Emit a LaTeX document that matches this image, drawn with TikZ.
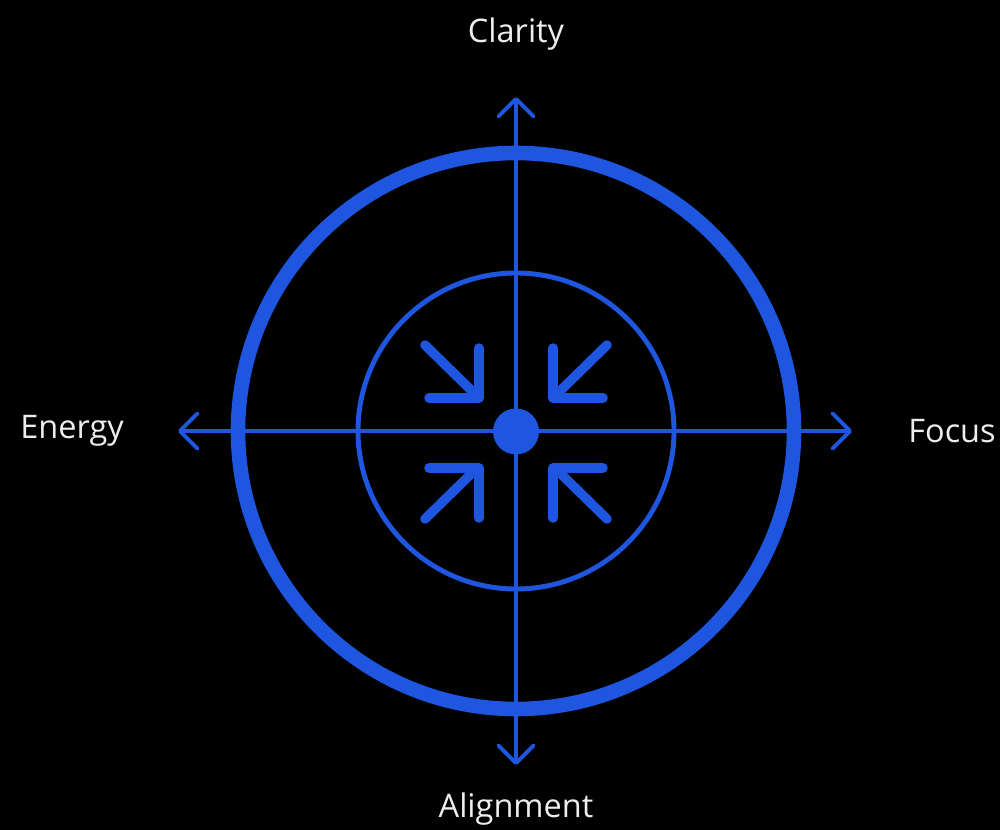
\documentclass[tikz,border=0pt]{standalone}
\usepackage{fontspec}
\setmainfont{Open Sans}
\usetikzlibrary{arrows.meta}
\definecolor{brandblue}{HTML}{1E56DF}
\definecolor{labelgray}{HTML}{EDEDED}
\tikzset{
  axisline/.style={draw=brandblue, line width=2.2pt, {Straight Barb[round,length=10pt,width=20pt]}-{Straight Barb[round,length=10pt,width=20pt]}},
  ringouter/.style={draw=brandblue, line width=8.3pt},
  ringinner/.style={draw=brandblue, line width=2.8pt},
  chevron/.style={draw=brandblue, line width=5.4pt, line cap=round, line join=round},
  axislabel/.style={text=labelgray, font=\fontsize{18.5}{22}\selectfont, inner sep=0pt},
}
\begin{document}
\begin{tikzpicture}[x=0.02cm, y=-0.02cm]
  \fill[black] (0,0) rectangle (1000,830);
  \useasboundingbox (0,0) rectangle (1000,830);
  % rings
  \draw[ringouter] (516,431) circle[radius=278];
  \draw[ringinner] (516,431) circle[radius=158];
  % axis end points
  \coordinate (top) at (516,97);
  \coordinate (bottom) at (516,765);
  \coordinate (left) at (178,431);
  \coordinate (right) at (852,431);
  \draw[axisline] (bottom) -- (top);
  \draw[axisline] (left) -- (right);
  % centre dot
  \node[circle, fill=brandblue, minimum size=46*0.02cm, inner sep=0pt] (c) at (516,431.5) {};
  % inward arrows
  \draw[chevron] (425,345) -- (472,391);
  \draw[chevron] (479,348) -- (479,398) -- (429,398);
  \draw[chevron] (607,345) -- (560,391);
  \draw[chevron] (553,348) -- (553,398) -- (603,398);
  \draw[chevron] (425,519) -- (472,473);
  \draw[chevron] (479,518) -- (479,468) -- (429,468);
  \draw[chevron] (607,519) -- (560,473);
  \draw[chevron] (553,518) -- (553,468) -- (603,468);
  % labels
  \node[axislabel] (clarity) at (516,34) {Clarity};
  \node[axislabel] (alignment) at (516,809) {Alignment};
  \node[axislabel, anchor=west] (energy) at (20,431) {Energy};
  \node[axislabel, anchor=west] (focus) at (908,431) {Focus};
\end{tikzpicture}
\end{document}
